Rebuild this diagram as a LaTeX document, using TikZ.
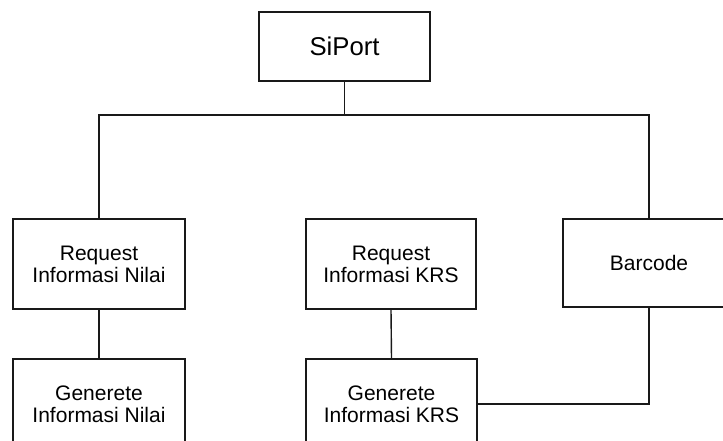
\documentclass[tikz,border=0pt]{standalone}
\usepackage{fontspec}
\setmainfont{Liberation Sans}
\begin{document}
\begin{tikzpicture}[x=1pt,y=-1pt,
  box/.style={draw=black!90, line width=1.4pt, minimum width=172pt, minimum height=90pt,
    inner sep=0pt, align=center, font=\fontsize{21}{22}\selectfont},
  conn/.style={draw=black!90, line width=1.4pt}]
\useasboundingbox (0,0) rectangle (723,441);
\clip (0,0) rectangle (723,441);
\node[box, minimum width=171pt, minimum height=69pt, font=\fontsize{25.7}{28}\selectfont] (siport) at (344.5,46.5) {SiPort};
\node[box] (rin) at (99,264) {Request\\Informasi Nilai};
\node[box, minimum width=170pt] (rkrs) at (391,264) {Request\\Informasi KRS};
\node[box, minimum height=88pt] (bar) at (649,263) {Barcode};
\node[box] (gin) at (99,404) {Generete\\Informasi Nilai};
\node[box, minimum width=171pt] (gkrs) at (391.5,404) {Generete\\Informasi KRS};
\coordinate (j) at (344.5,115);
\draw[conn] (siport.south) -- (j);
\draw[conn] (rin.north) |- (j) -| (bar.north);
\draw[conn] (rin.south) -- (gin.north);
\draw[conn] (rkrs.south) -- (gkrs.north);
\draw[conn] (bar.south) |- (gkrs.east);
\end{tikzpicture}
\end{document}
